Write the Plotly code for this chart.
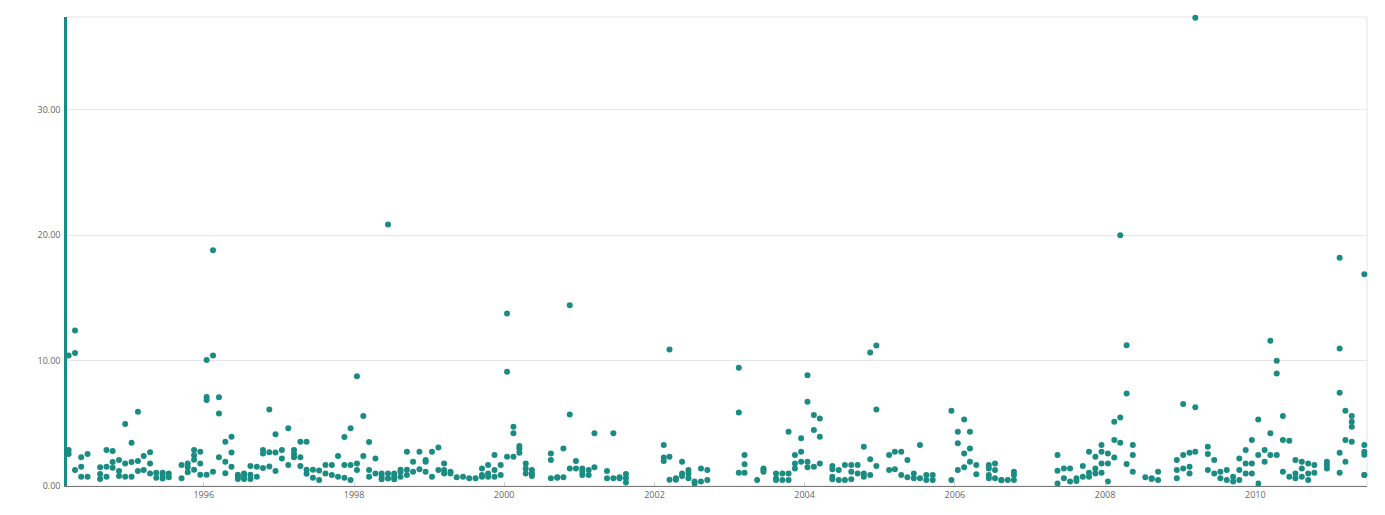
import plotly.graph_objects as go

# ---- data: month numbers and values per year (monthly readings, several per month) ----
m1994 = [3,3,3, 4,4,4, 5,5,5, 6,6, 8,8,8, 9,9,9, 10,10,10, 11,11,11, 12,12,12]
v1994 = [10.4,2.87,2.55, 12.4,10.6,1.27, 2.29,1.54,0.74, 2.55,0.74, 1.5,0.95,0.55, 2.87,1.54,0.74,
         2.8,1.91,1.46, 2.08,1.2,0.8, 4.94,1.8,0.74]

m1995 = [1,1,1, 2,2,2, 3,3, 4,4,4, 5,5, 6,6,6, 7,7, 9,9, 10,10,10, 11,11,11,11, 12,12,12]
v1995 = [3.45,1.91,0.74, 5.92,2.0,1.2, 2.4,1.27, 2.7,1.8,1.0, 1.05,0.65, 1.05,0.85,0.6, 1.0,0.7,
         1.67,0.61, 1.8,1.5,1.1, 2.87,2.45,2.1,1.3, 2.73,1.8,0.9]

m1996 = [1,1,1,1, 2,2,2, 3,3,3, 4,4,4, 5,5,5, 6,6,6, 7,7,7, 8,8,8, 9,9, 10,10,10, 11,11,11, 12,12,12]
v1996 = [10.04,7.1,6.85,0.9, 18.8,10.4,1.14, 7.07,5.79,2.3, 3.53,1.94,1.01, 3.93,2.68,1.54,
         0.9,0.75,0.55, 1.0,0.75,0.55, 1.6,0.9,0.55, 1.54,0.74, 2.87,2.6,1.43, 6.1,2.7,1.55, 4.12,2.68,1.2]

m1997 = [1,1, 2,2, 3,3,3, 4,4,4, 5,5,5, 6,6, 7,7, 8,8, 9,9, 10,10, 11,11,11, 12,12,12]
v1997 = [2.87,2.2, 4.6,1.67, 2.87,2.55,2.3, 3.53,2.3,1.6, 3.53,1.3,0.98, 1.3,0.65, 1.24,0.48,
         1.67,1.0, 1.67,0.88, 2.4,0.74, 3.9,1.67,0.66, 4.6,1.67,0.48]

m1998 = [1,1,1, 2,2, 3,3,3, 4,4, 5,5,5, 6,6,6, 7,7,7, 8,8,8, 9,9,9, 10,10, 11,11, 12,12,12]
v1998 = [8.76,1.8,1.27, 5.58,2.4, 3.5,1.27,0.74, 2.2,1.0, 1.0,0.74,0.53, 20.85,1.0,0.6,
         1.0,0.74,0.53, 1.3,1.14,0.74, 2.74,1.3,0.88, 1.94,1.14, 2.74,1.33, 2.07,1.94,1.14]

m1999 = [1,1, 2,2, 3,3,3, 4,4, 5, 6, 7, 8, 9,9,9, 10,10,10, 11,11,11, 12,12]
v1999 = [2.74,0.74, 3.08,1.27, 1.8,1.27,1.0, 1.14,1.0, 0.69, 0.74, 0.61, 0.61, 1.4,0.88,0.74,
         1.67,1.0,0.74, 2.47,1.27,0.74, 1.67,0.88]

m2000 = [1,1,1, 2,2,2, 3,3,3, 4,4,4, 5,5,5, 8,8,8, 9,9, 10,10, 11,11,11, 12,12]
v2000 = [13.76,9.11,2.34, 4.73,4.2,2.34, 3.19,3.0,2.66, 1.8,1.4,1.0, 1.27,1.0,0.8, 2.6,2.07,0.61,
         0.7,0.65, 3.0,0.7, 14.42,5.71,1.4, 2.0,1.4]

m2001 = [1,1,1, 2,2, 3,3, 5,5, 6,6, 7,7, 8,8,8]
v2001 = [1.4,1.14,0.88, 1.27,0.88, 4.2,1.49, 1.2,0.61, 4.2,0.61, 0.61,0.7, 0.96,0.61,0.27]

m2002 = [2,2,2, 3,3,3, 4,4, 5,5,5, 6,6,6, 7,7, 8,8, 9,9]
v2002 = [3.27,2.28,2.0, 10.89,2.34,0.5, 0.61,0.5, 1.94,1.0,0.8, 1.27,1.0,0.61, 0.2,0.35, 1.4,0.35, 1.27,0.48]

m2003 = [2,2,2, 3,3,3, 5, 6,6,6, 8,8,8, 9,9, 10,10,10, 11,11,11, 12,12,12]
v2003 = [9.43,5.87,1.06, 2.47,1.73,1.06, 0.48, 1.4,1.27,1.14, 1.0,0.6,0.48, 1.0,0.48, 4.33,1.0,0.48,
         2.47,1.8,1.4, 3.8,2.74,1.94]

m2004 = [1,1,1,1, 2,2,2, 3,3,3, 5,5,5,5, 6,6, 7,7, 8,8,8, 9,9, 10,10,10, 11,11,11, 12,12,12]
v2004 = [8.84,6.72,1.94,1.49, 5.66,4.46,1.54, 5.39,3.93,1.8, 1.6,1.33,0.74,0.53, 1.27,0.48, 1.67,0.48,
         1.67,1.14,0.53, 1.67,1.0, 3.13,1.0,0.74, 10.65,2.13,0.88, 11.2,6.1,1.6]

m2005 = [2,2, 3,3, 4,4, 5,5, 6,6, 7,7, 8,8, 9,9, 12,12]
v2005 = [2.47,1.27, 2.74,1.33, 2.74,0.88, 2.07,0.69, 1.0,0.61, 3.27,0.61, 0.88,0.48, 0.88,0.48, 6.0,0.48]

m2006 = [1,1,1, 2,2,2, 3,3,3, 4,4, 6,6,6,6, 7,7,7, 8,8, 9, 10,10,10]
v2006 = [4.33,3.4,1.27, 5.31,2.6,1.49, 4.33,3.0,1.94, 1.67,0.93, 1.67,1.4,0.88,0.61, 1.8,1.27,0.61,
         0.48,0.45, 0.48, 1.14,0.88,0.48]

m2007 = [5,5,5, 6,6, 7,7, 8,8, 9,9, 10,10,10, 11,11,11, 12,12,12,12]
v2007 = [2.47,1.22,0.2, 1.4,0.61, 1.4,0.35, 0.61,0.4, 1.6,0.74, 2.74,1.06,0.74, 2.34,1.4,1.0,
         3.27,2.74,1.8,1.06]

m2008 = [1,1,1, 2,2,2, 3,3,3, 4,4,4, 5,5,5, 7, 8,8, 9,9, 12,12,12]
v2008 = [2.6,1.8,0.35, 5.13,3.67,2.28, 20.0,5.47,3.45, 11.23,7.38,1.75, 3.27,2.47,1.14, 0.69,
         0.61,0.55, 1.14,0.48, 2.07,1.27,0.61]

m2009 = [1,1,1, 2,2,2, 3,3,3, 5,5,5, 6,6, 7,7, 8,8, 9,9, 10,10,10, 11,11,11, 12,12,12]
v2009 = [6.53,2.47,1.4, 2.66,1.54,1.0, 37.35,6.27,2.74, 3.13,2.55,1.27, 2.07,1.0, 1.14,0.61,
         1.27,0.48, 0.74,0.35, 2.2,1.27,0.48, 2.87,1.8,1.0, 3.67,1.8,1.0]

m2010 = [1,1,1, 2,2, 3,3,3, 4,4,4, 5,5,5, 6,6, 7,7,7, 8,8,8, 9,9,9, 10,10, 12,12,12]
v2010 = [5.31,2.47,0.2, 2.87,1.94, 11.58,4.2,2.47, 9.99,8.98,2.47, 5.58,3.67,1.14, 3.61,0.74,
         2.07,1.0,0.61, 1.94,1.4,0.74, 1.8,1.0,0.48, 1.67,1.06, 1.94,1.67,1.4]

m2011 = [2,2,2,2,2, 3,3,3, 4,4,4,4, 6,6,6,6,6,6]
v2011 = [18.2,10.97,7.44,2.66,1.06, 6.0,3.67,1.94, 5.58,5.13,4.73,3.53, 16.89,3.27,2.74,2.5,0.88,0.88]

y_ticks = [0, 10, 20, 30]

years = [
    (1994, m1994, v1994), (1995, m1995, v1995), (1996, m1996, v1996), (1997, m1997, v1997),
    (1998, m1998, v1998), (1999, m1999, v1999), (2000, m2000, v2000), (2001, m2001, v2001),
    (2002, m2002, v2002), (2003, m2003, v2003), (2004, m2004, v2004), (2005, m2005, v2005),
    (2006, m2006, v2006), (2007, m2007, v2007), (2008, m2008, v2008), (2009, m2009, v2009),
    (2010, m2010, v2010), (2011, m2011, v2011),
]

dates, vals = [], []
for yr, ms, vs in years:
    for m, v in zip(ms, vs):
        dates.append(f"{yr}-{m:02d}-15")
        vals.append(v)

TEAL = "#1a8c82"

fig = go.Figure()
fig.add_trace(go.Scatter(
    x=dates, y=vals, mode="markers",
    marker=dict(size=6, color=TEAL, line=dict(width=0)),
    cliponaxis=False, hoverinfo="skip", showlegend=False,
))

# light border on top/right of plot area
fig.add_shape(type="rect", xref="paper", yref="paper", x0=0, x1=1, y0=0, y1=1,
              line=dict(color="#e4e4e4", width=1), layer="below")

fig.update_layout(
    width=1377, height=507,
    margin=dict(l=59, r=18, t=9, b=29),
    paper_bgcolor="#ffffff",
    plot_bgcolor="#ffffff",
    font=dict(family="Open Sans, sans-serif", size=9, color="#666666"),
    showlegend=False,
    hovermode=False,
)

fig.update_xaxes(
    type="date",
    range=["1994-03-07", "2011-06-28"],
    tick0="1996-01-01", dtick="M24", tickformat="%Y",
    showgrid=False, zeroline=False,
    showline=True, linecolor="#777777", linewidth=1,
    ticks="inside", ticklen=4, tickcolor="#cccccc",
    tickfont=dict(size=9, color="#666666"),
)

fig.update_yaxes(
    range=[0, 37.4],
    tickvals=y_ticks, tickformat=".2f",
    showgrid=True, gridcolor="#e6e6e6", gridwidth=1,
    zeroline=False,
    showline=True, linecolor=TEAL, linewidth=2.5,
    ticks="", ticklabelstandoff=2,
    tickfont=dict(size=9, color="#666666"),
)

fig.write_html("out.html")
